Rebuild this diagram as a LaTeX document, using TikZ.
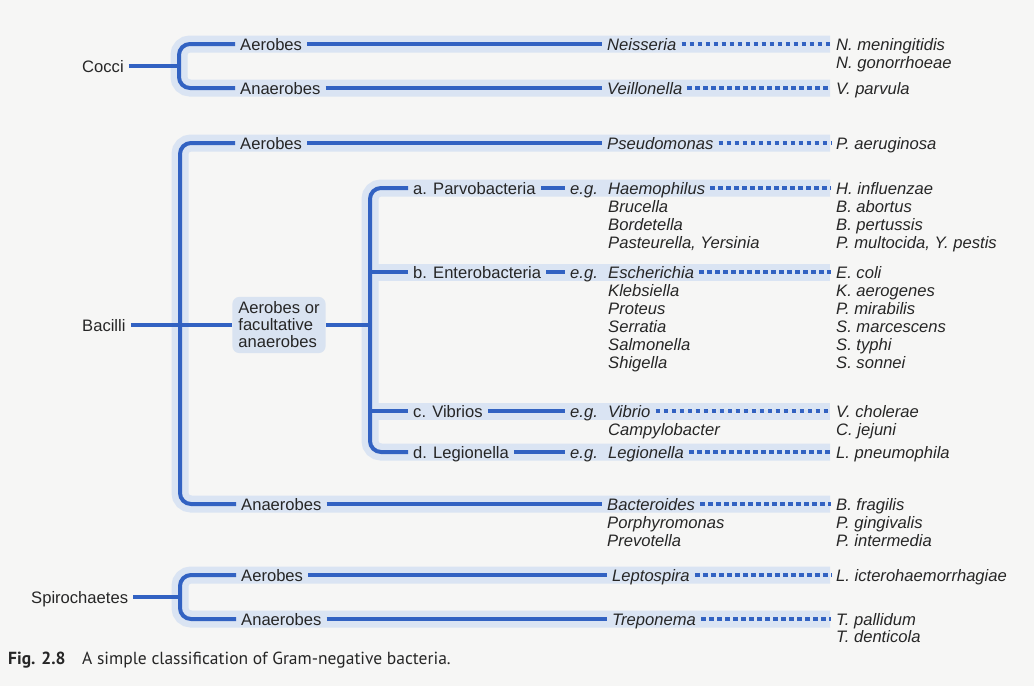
\documentclass[tikz,border=0pt]{standalone}
\usepackage{fontspec}
\setmainfont{Liberation Sans}
\newfontfamily\capfont{PT Sans}
\definecolor{lineblue}{HTML}{3262C2}
\definecolor{haloblue}{HTML}{DAE4F3}
\definecolor{boxblue}{HTML}{D9E3F1}
\definecolor{bgc}{HTML}{F6F6F5}
\definecolor{txt}{HTML}{262626}
\pgfdeclarelayer{back}
\pgfdeclarelayer{halolayer}
\pgfsetlayers{back,halolayer,main}
\begin{document}
\begin{tikzpicture}[x=1pt,y=-1pt,
  lbl/.style={anchor=west, inner xsep=5, inner ysep=0, text height=12, text depth=0,
              font=\fontsize{16.6}{18}\selectfont, text=txt},
  gen/.style={lbl, font=\fontsize{16.6}{18}\selectfont\itshape},
  ln/.style={draw=lineblue, line width=4},
  knee/.style={ln, rounded corners=11},
  halo/.style={draw=haloblue, line width=17},
  halok/.style={halo, rounded corners=11},
  dots/.style={draw=lineblue, line width=3.2, dash pattern=on 4.6 off 3.4},
  grp/.style={fill=boxblue, rounded corners=7, align=left, inner xsep=6,
              inner ysep=5, font=\fontsize{16.6}{17}\selectfont, text=txt},
  capb/.style={anchor=west, inner sep=0, font=\capfont\bfseries\fontsize{17.5}{20}\selectfont, text=txt},
  capn/.style={anchor=west, inner sep=0, font=\capfont\fontsize{17.5}{20}\selectfont, text=txt},
]
\begin{pgfonlayer}{back}
\fill[bgc] (0,0) rectangle (1034,686);
\end{pgfonlayer}
\useasboundingbox (0,0) rectangle (1034,686);

% ---------- Cocci ----------
\node[lbl] (cocci) at (77,66) {Cocci};
\node[lbl] (cA) at (235,44) {Aerobes};
\node[gen] (neis) at (602,44) {Neisseria};
\node[gen] (nmen) at (831,44) {N. meningitidis};
\node[gen] (ngon) at (831,62) {N. gonorrhoeae};
\node[lbl] (cAn) at (235,88) {Anaerobes};
\node[gen] (veil) at (602,88) {Veillonella};
\node[gen] (vpar) at (831,88) {V. parvula};

% ---------- Bacilli ----------
\node[lbl] (bac) at (77,325) {Bacilli};
\node[lbl] (bA) at (235,143) {Aerobes};
\node[gen] (pse) at (602,143) {Pseudomonas};
\node[gen] (paer) at (831,143) {P. aeruginosa};
\node[grp] (box) at (279,325) {Aerobes or\\facultative\\anaerobes};

\node[lbl] (pa) at (408,188) {a. Parvobacteria};
\node[gen] (eg1) at (565,188) {e.g.};
\node[gen] (hae) at (603,188) {Haemophilus};
\node[gen] (hinf) at (831,188) {H. influenzae};
\node[gen] (bru) at (603,206) {Brucella};
\node[gen] (babo) at (831,206) {B. abortus};
\node[gen] (bor) at (603,224) {Bordetella};
\node[gen] (bper) at (831,224) {B. pertussis};
\node[gen] (pas) at (603,242) {Pasteurella, Yersinia};
\node[gen] (pmul) at (831,242) {P. multocida, Y. pestis};

\node[lbl] (en) at (408,272) {b. Enterobacteria};
\node[gen] (eg2) at (565,272) {e.g.};
\node[gen] (esc) at (603,272) {Escherichia};
\node[gen] (ecol) at (831,272) {E. coli};
\node[gen] (kle) at (603,290) {Klebsiella};
\node[gen] (kaer) at (831,290) {K. aerogenes};
\node[gen] (pro) at (603,308) {Proteus};
\node[gen] (pmir) at (831,308) {P. mirabilis};
\node[gen] (ser) at (603,326) {Serratia};
\node[gen] (smar) at (831,326) {S. marcescens};
\node[gen] (sal) at (603,344) {Salmonella};
\node[gen] (styp) at (831,344) {S. typhi};
\node[gen] (shi) at (603,362) {Shigella};
\node[gen] (sson) at (831,362) {S. sonnei};

\node[lbl] (vi) at (408,411) {c. Vibrios};
\node[gen] (eg3) at (565,411) {e.g.};
\node[gen] (vib) at (603,411) {Vibrio};
\node[gen] (vcho) at (831,411) {V. cholerae};
\node[gen] (cam) at (603,429) {Campylobacter};
\node[gen] (cjej) at (831,429) {C. jejuni};

\node[lbl] (le) at (408,452) {d. Legionella};
\node[gen] (eg4) at (565,452) {e.g.};
\node[gen] (leg) at (603,452) {Legionella};
\node[gen] (lpn) at (831,452) {L. pneumophila};

\node[lbl] (bAn) at (236,504) {Anaerobes};
\node[gen] (bact) at (602,504) {Bacteroides};
\node[gen] (bfra) at (831,504) {B. fragilis};
\node[gen] (por) at (602,522) {Porphyromonas};
\node[gen] (pgin) at (831,522) {P. gingivalis};
\node[gen] (prev) at (602,540) {Prevotella};
\node[gen] (pint) at (831,540) {P. intermedia};

% ---------- Spirochaetes ----------
\node[lbl] (spi) at (26,597) {Spirochaetes};
\node[lbl] (sA) at (236,575) {Aerobes};
\node[gen] (lep) at (607,575) {Leptospira};
\node[gen] (lict) at (831,575) {L. icterohaemorrhagiae};
\node[lbl] (sAn) at (236,619) {Anaerobes};
\node[gen] (tre) at (607,619) {Treponema};
\node[gen] (tpal) at (831,619) {T. pallidum};
\node[gen] (tden) at (831,636) {T. denticola};

% ---------- caption ----------
\node[capb] (figno) at (8,660) {Fig. 2.8};
\node[capn] (cap) at (82,660) {A simple classification of Gram-negative bacteria.};

% ---------- halos ----------
\begin{pgfonlayer}{halolayer}
\draw[halok] (830,44) -- (179,44) -- (179,88) -- (830,88);
\draw[halok] (830,143) -- (180,143) -- (180,504) -- (830,504);
\draw[halok] (830,188) -- (370,188) -- (370,452) -- (830,452);
\draw[halo] (370,272) -- (830,272);
\draw[halo] (370,411) -- (830,411);
\draw[halok] (830,575) -- (180,575) -- (180,619) -- (830,619);
\end{pgfonlayer}

% ---------- knees ----------
\coordinate (kc) at (179,66);
\coordinate (kb) at (180,325);
\coordinate (ks) at (370,325);
\coordinate (ken) at (370,272);
\coordinate (kvi) at (370,411);
\coordinate (kspi) at (180,597);

% ---------- connectors ----------
\draw[ln] (cocci.east) -- (kc);
\draw[knee] (cA.west) -| (kc) |- (cAn.west);
\draw[ln] (cA.east) -- (neis.west);
\draw[ln] (cAn.east) -- (veil.west);
\draw[dots] (neis.east) -- (nmen.west);
\draw[dots] (veil.east) -- (vpar.west);

\draw[ln] (bac.east) -- (box.west);
\draw[knee] (bA.west) -| (kb) |- (bAn.west);
\draw[ln] (bA.east) -- (pse.west);
\draw[dots] (pse.east) -- (paer.west);
\draw[ln] (bAn.east) -- (bact.west);
\draw[dots] (bact.east) -- (bfra.west);

\draw[ln] (box.east) -- (ks);
\draw[knee] (pa.west) -| (ks) |- (le.west);
\draw[ln] (ken) -- (en.west);
\draw[ln] (kvi) -- (vi.west);
\draw[ln] (pa.east) -- (eg1.west);
\draw[ln] (en.east) -- (eg2.west);
\draw[ln] (vi.east) -- (eg3.west);
\draw[ln] (le.east) -- (eg4.west);
\draw[dots] (hae.east) -- (hinf.west);
\draw[dots] (esc.east) -- (ecol.west);
\draw[dots] (vib.east) -- (vcho.west);
\draw[dots] (leg.east) -- (lpn.west);

\draw[ln] (spi.east) -- (kspi);
\draw[knee] (sA.west) -| (kspi) |- (sAn.west);
\draw[ln] (sA.east) -- (lep.west);
\draw[ln] (sAn.east) -- (tre.west);
\draw[dots] (lep.east) -- (lict.west);
\draw[dots] (tre.east) -- (tpal.west);
\end{tikzpicture}
\end{document}
